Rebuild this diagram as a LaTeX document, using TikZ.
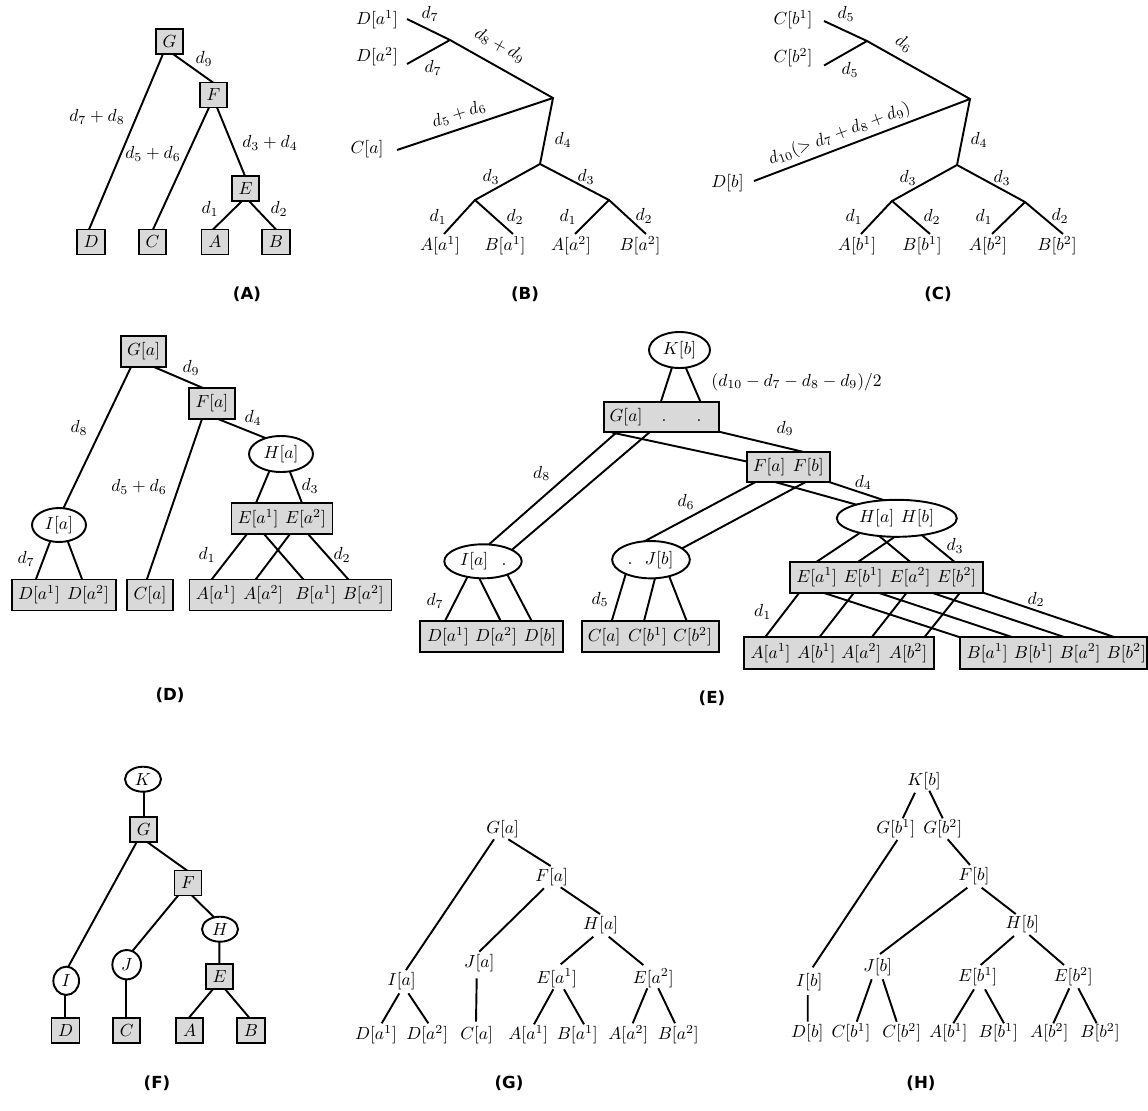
\documentclass[tikz,border=0pt]{standalone}
\usepackage{fontspec}
\newfontfamily\capf{DejaVu Sans}
\usetikzlibrary{shapes.geometric,backgrounds}
\definecolor{boxg}{RGB}{217,217,217}
\def\px{0.5714pt}
\begin{document}
\begin{tikzpicture}[x=\px,y=-\px,
  tb/.style={draw, fill=boxg, line width=1.1pt, inner sep=6.5*\px, minimum width=27*\px, minimum height=25*\px},
  bb/.style={tb, minimum height=31*\px},
  el/.style={ellipse, draw, fill=white, line width=1.1pt, inner sep=0pt},
  sl/.style={inner sep=0pt},
  lb/.style={inner sep=0pt},
  ed/.style={line width=1.1pt},
  ex/.style={ed, shorten <=-2pt, shorten >=-2pt},
  captxt/.style={inner sep=0pt, font=\capf\bfseries\fontsize{9.5}{11}\selectfont}
]
\useasboundingbox (0,0) rectangle (1148,1110);

% ================= Panel A =================
\node[tb] (aG) at (169.5,41.5) {$G$};
\node[tb] (aF) at (213.5,95) {$F$};
\node[tb] (aE) at (245.5,188.5) {$E$};
\node[tb] (aD) at (91,242) {$D$};
\node[tb] (aC) at (152.5,242) {$C$};
\node[tb] (aA) at (215,242) {$A$};
\node[tb] (aB) at (276,242) {$B$};
\node[lb] (aL1) at (204,59) {$d_9$};
\node[lb] (aL2) at (97,117) {$d_7+d_8$};
\node[lb] (aL3) at (153,154) {$d_5+d_6$};
\node[lb] (aL4) at (270,143) {$d_3+d_4$};
\node[lb] (aL5) at (210,209) {$d_1$};
\node[lb] (aL6) at (279,209) {$d_2$};
\node[captxt] (capA) at (247,294) {(A)};
\begin{scope}[on background layer]
\draw[ex] ([shift={(-6.5,12.5)}]aG.center) -- ([shift={(-2,-12.5)}]aD.center);
\draw[ex] ([shift={(3.5,12.5)}]aG.center) -- ([shift={(-0.5,-12.5)}]aF.center);
\draw[ex] ([shift={(-4.5,12.5)}]aF.center) -- ([shift={(0.5,-12.5)}]aC.center);
\draw[ex] ([shift={(3.5,12.5)}]aF.center) -- ([shift={(-0.5,-12.5)}]aE.center);
\draw[ex] ([shift={(-3.5,12.5)}]aE.center) -- ([shift={(-2,-12.5)}]aA.center);
\draw[ex] ([shift={(3.5,12.5)}]aE.center) -- ([shift={(0,-12.5)}]aB.center);
\end{scope}

% ================= Panel B =================
\node[lb] (bDa1) at (377,20) {$D[a^1]$};
\node[lb] (bDa2) at (377,57) {$D[a^2]$};
\node[lb] (bCa) at (367,149) {$C[a]$};
\node[lb] (bAa1) at (440,246) {$A[a^1]$};
\node[lb] (bBa1) at (505,246) {$B[a^1]$};
\node[lb] (bAa2) at (571,246) {$A[a^2]$};
\node[lb] (bBa2) at (640,246) {$B[a^2]$};
\coordinate (bj1) at (450,40);
\coordinate (bj2) at (553,98);
\coordinate (bj3) at (540,164);
\coordinate (bj4) at (475,200);
\coordinate (bj5) at (609,200);
\draw[ed] ([shift={(30,-1)}]bDa1.center) -- (bj1) -- (bj2) -- (bj3);
\draw[ed] ([shift={(30,7)}]bDa2.center) -- (bj1);
\draw[ed] ([shift={(30,1)}]bCa.center) -- (bj2);
\draw[ed] ([shift={(4,-12)}]bAa1.center) -- (bj4) -- (bj3) -- (bj5) -- ([shift={(6,-12)}]bBa2.center);
\draw[ed] ([shift={(8,-12)}]bBa1.center) -- (bj4);
\draw[ed] ([shift={(4,-12)}]bAa2.center) -- (bj5);
\node[lb] (bL1) at (430,14) {$d_7$};
\node[lb] (bL2) at (433,68) {$d_7$};
\node[lb, rotate=-29.5] (bL3) at (500,45.5) {$d_8+d_9$};
\node[lb, rotate=18] (bL4) at (459,114) {$d_5+d_6$};
\node[lb] (bL5) at (563,140) {$d_4$};
\node[lb] (bL6) at (491,177) {$d_3$};
\node[lb] (bL7) at (586,177) {$d_3$};
\node[lb] (bL8) at (438,217) {$d_1$};
\node[lb] (bL9) at (515,217) {$d_2$};
\node[lb] (bL10) at (568,217) {$d_1$};
\node[lb] (bL11) at (644,216) {$d_2$};
\node[captxt] (capB) at (525,294) {(B)};

% ================= Panel C =================
\node[lb] (cCb1) at (793,20) {$C[b^1]$};
\node[lb] (cCb2) at (793,58) {$C[b^2]$};
\node[lb] (cDb) at (727.5,183) {$D[b]$};
\node[lb] (cAb1) at (857,246) {$A[b^1]$};
\node[lb] (cBb1) at (922,246) {$B[b^1]$};
\node[lb] (cAb2) at (988,246) {$A[b^2]$};
\node[lb] (cBb2) at (1057,246) {$B[b^2]$};
\coordinate (cj1) at (867,41);
\coordinate (cj2) at (970,99);
\coordinate (cj3) at (957,165);
\coordinate (cj4) at (892,201);
\coordinate (cj5) at (1025,202);
\draw[ed] ([shift={(31,1)}]cCb1.center) -- (cj1) -- (cj2) -- (cj3);
\draw[ed] ([shift={(31,7.5)}]cCb2.center) -- (cj1);
\draw[ed] ([shift={(26.5,-2)}]cDb.center) -- (cj2);
\draw[ed] ([shift={(4,-12)}]cAb1.center) -- (cj4) -- (cj3) -- (cj5) -- ([shift={(6,-12)}]cBb2.center);
\draw[ed] ([shift={(8,-12)}]cBb1.center) -- (cj4);
\draw[ed] ([shift={(4,-12)}]cAb2.center) -- (cj5);
\node[lb] (cL1) at (846,14) {$d_5$};
\node[lb] (cL2) at (850,70) {$d_5$};
\node[lb, rotate=-29.4] (cL3) at (904,43.5) {$d_6$};
\node[lb, rotate=20.5] (cL4) at (839.5,134) {$d_{10}(>d_7+d_8+d_9)$};
\node[lb] (cL5) at (979,140) {$d_4$};
\node[lb] (cL6) at (908,178) {$d_3$};
\node[lb] (cL7) at (1002,178) {$d_3$};
\node[lb] (cL8) at (854,217) {$d_1$};
\node[lb] (cL9) at (932,217) {$d_2$};
\node[lb] (cL10) at (984,217) {$d_1$};
\node[lb] (cL11) at (1060,216) {$d_2$};
\node[captxt] (capC) at (938,294) {(C)};

% ================= Panel D =================
\node[bb] (dG) at (143.5,351.5) {$G[a]$};
\node[bb] (dF) at (212,403.5) {$F[a]$};
\node[el, minimum width=64*\px, minimum height=36*\px] (dH) at (281,454) {$H[a]$};
\node[bb, minimum width=101*\px] (dE) at (282,518.5) {};
\node[sl] (dE1) at (258,518.5) {$E[a^1]$};
\node[sl] (dE2) at (305.5,518.5) {$E[a^2]$};
\node[el, minimum width=54*\px, minimum height=34*\px] (dI) at (59,525) {$I[a]$};
\node[bb, minimum width=104*\px] (dD) at (64,595) {};
\node[sl] (dD1) at (39,595) {$D[a^1]$};
\node[sl] (dD2) at (88,595) {$D[a^2]$};
\node[bb] (dC) at (150,595) {$C[a]$};
\node[bb, minimum width=202*\px] (dAB) at (290.5,595) {};
\node[sl] (dA1) at (215.8,595) {$A[a^1]$};
\node[sl] (dA2) at (263.3,595) {$A[a^2]$};
\node[sl] (dB1) at (315.8,595) {$B[a^1]$};
\node[sl] (dB2) at (363.3,595) {$B[a^2]$};
\node[lb] (dL1) at (191,368) {$d_9$};
\node[lb] (dL2) at (79,428) {$d_8$};
\node[lb] (dL3) at (253,418) {$d_4$};
\node[lb] (dL4) at (139,487) {$d_5+d_6$};
\node[lb] (dL5) at (310,486) {$d_3$};
\node[lb] (dL6) at (207,555) {$d_1$};
\node[lb] (dL7) at (342,555) {$d_2$};
\node[lb] (dL8) at (26,559) {$d_7$};
\node[captxt] (capD) at (170,695) {(D)};
\begin{scope}[on background layer]
\draw[ex] ([shift={(-12.5,15.5)}]dG.center) -- ([shift={(5,-18)}]dI.center);
\draw[ex] ([shift={(10.5,15.5)}]dG.center) -- ([shift={(-9,-15.5)}]dF.center);
\draw[ex] ([shift={(-10,15.5)}]dF.center) -- ([shift={(-3,-16)}]dC.center);
\draw[ex] ([shift={(6,15.5)}]dF.center) -- ([shift={(-18,-17)}]dH.center);
\draw[ex] ([shift={(-12,18)}]dH.center) -- ([shift={(-26,-15.5)}]dE.center);
\draw[ex] ([shift={(9,18)}]dH.center) -- ([shift={(20,-15.5)}]dE.center);
\draw[ex] ([shift={(-9,17)}]dI.center) -- ([shift={(-28,-16)}]dD.center);
\draw[ex] ([shift={(9,17)}]dI.center) -- ([shift={(18,-16)}]dD.center);
\draw[ex] ([shift={(-35,15.5)}]dE.center) -- ([shift={(-78.5,-16)}]dAB.center);
\draw[ex] ([shift={(-18,15.5)}]dE.center) -- ([shift={(12.5,-16)}]dAB.center);
\draw[ex] ([shift={(8,15.5)}]dE.center) -- ([shift={(-34.5,-16)}]dAB.center);
\draw[ex] ([shift={(26,15.5)}]dE.center) -- ([shift={(57.5,-16)}]dAB.center);
\end{scope}

% ================= Panel E =================
\node[el, minimum width=61*\px, minimum height=36*\px] (eK) at (679.5,350) {$K[b]$};
\node[bb, minimum width=115*\px, minimum height=30*\px] (eG) at (661.5,417.3) {};
\node[sl] (eGa) at (626,417.3) {$G[a]$};
\node[sl] (eGd1) at (664,417.3) {$\vphantom{[}.$};
\node[sl] (eGd2) at (699,417.3) {$\vphantom{[}.$};
\node[bb, minimum width=83*\px, minimum height=30*\px] (eF) at (788.5,467.3) {};
\node[sl] (eFa) at (769.2,467.3) {$F[a]$};
\node[sl] (eFb) at (808.3,467.3) {$F[b]$};
\node[el, minimum width=120*\px, minimum height=37*\px] (eH) at (896.8,518.3) {};
\node[sl] (eHa) at (876.7,518.3) {$H[a]$};
\node[sl] (eHb) at (917.5,518.3) {$H[b]$};
\node[bb, minimum width=193*\px] (eE) at (886.7,577.2) {};
\node[sl] (eE1) at (816.7,577.2) {$E[a^1]$};
\node[sl] (eE2) at (863,577.2) {$E[b^1]$};
\node[sl] (eE3) at (910,577.2) {$E[a^2]$};
\node[sl] (eE4) at (956.7,577.2) {$E[b^2]$};
\node[bb, minimum width=190*\px, minimum height=31.7*\px] (eA) at (839,653.2) {};
\node[sl] (eA1) at (770.5,653.2) {$A[a^1]$};
\node[sl] (eA2) at (816.3,653.2) {$A[b^1]$};
\node[sl] (eA3) at (861.3,653.2) {$A[a^2]$};
\node[sl] (eA4) at (908,653.2) {$A[b^2]$};
\node[bb, minimum width=187*\px, minimum height=31.7*\px] (eB) at (1053.7,653.2) {};
\node[sl] (eB1) at (987.2,653.2) {$B[a^1]$};
\node[sl] (eB2) at (1033.5,653.2) {$B[b^1]$};
\node[sl] (eB3) at (1080,653.2) {$B[a^2]$};
\node[sl] (eB4) at (1126.3,653.2) {$B[b^2]$};
\node[el, minimum width=77.4*\px, minimum height=34*\px] (eI) at (483,561.3) {};
\node[sl] (eIa) at (474.2,561.3) {$I[a]$};
\node[sl] (eId) at (504,561.3) {$\vphantom{[}.$};
\node[el, minimum width=77.7*\px, minimum height=37.3*\px] (eJ) at (651,559.7) {};
\node[sl] (eJd) at (630,559.7) {$\vphantom{[}.$};
\node[sl] (eJb) at (659.2,559.7) {$J[b]$};
\node[bb, minimum width=142.7*\px] (eD) at (491.3,636.7) {};
\node[sl] (eD1) at (448,636.7) {$D[a^1]$};
\node[sl] (eD2) at (496,636.7) {$D[a^2]$};
\node[sl] (eD3) at (540,636.7) {$D[b]$};
\node[bb, minimum width=137.3*\px] (eC) at (650.7,636.7) {};
\node[sl] (eC1) at (604.2,636.7) {$C[a]$};
\node[sl] (eC2) at (647.5,636.7) {$C[b^1]$};
\node[sl] (eC3) at (692.5,636.7) {$C[b^2]$};
\node[lb] (eL1) at (796.5,381.7) {$(d_{10}-d_7-d_8-d_9)/2$};
\node[lb] (eL2) at (785,428.3) {$d_9$};
\node[lb] (eL3) at (541.7,473.3) {$d_8$};
\node[lb] (eL4) at (686,501.7) {$d_6$};
\node[lb] (eL5) at (435,601) {$d_7$};
\node[lb] (eL6) at (600,599.3) {$d_5$};
\node[lb] (eL7) at (863.3,482.3) {$d_4$};
\node[lb] (eL8) at (955,546) {$d_3$};
\node[lb] (eL9) at (762.7,611.7) {$d_1$};
\node[lb] (eL10) at (1036,599.3) {$d_2$};
\node[captxt] (capE) at (712,698) {(E)};
\begin{scope}[on background layer]
\draw[ex] ([shift={(-7.8,18.3)}]eK.center) -- ([shift={(-0.8,-15)}]eG.center);
\draw[ex] ([shift={(6.5,18.3)}]eK.center) -- ([shift={(39.2,-15)}]eG.center);
\draw[ex] ([shift={(-46,16)}]eG.center) -- ([shift={(5.3,-16.3)}]eI.center);
\draw[ex] ([shift={(-13.2,16)}]eG.center) -- ([shift={(28.7,-11.3)}]eI.center);
\draw[ex] ([shift={(-46,16)}]eG.center) -- ([shift={(-40.8,-5.6)}]eF.center);
\draw[ex] ([shift={(57.5,14.4)}]eG.center) -- ([shift={(16.5,-15)}]eF.center);
\draw[ex] ([shift={(-33.5,15)}]eF.center) -- ([shift={(-6,-18.7)}]eJ.center);
\draw[ex] ([shift={(16.5,15)}]eF.center) -- ([shift={(32.3,-12)}]eJ.center);
\draw[ex] ([shift={(-12.5,15)}]eF.center) -- ([shift={(-41.8,-14)}]eH.center);
\draw[ex] ([shift={(41.5,15)}]eF.center) -- ([shift={(-13.5,-18.3)}]eH.center);
\draw[ex] ([shift={(-37.5,15)}]eH.center) -- ([shift={(-70,-15.5)}]eE.center);
\draw[ex] ([shift={(-2.8,19)}]eH.center) -- ([shift={(-28.4,-15.5)}]eE.center);
\draw[ex] ([shift={(-16.8,18.4)}]eH.center) -- ([shift={(23.3,-15.5)}]eE.center);
\draw[ex] ([shift={(24.9,16.7)}]eH.center) -- ([shift={(67.6,-15.5)}]eE.center);
\draw[ex] ([shift={(-87.4,15.5)}]eE.center) -- ([shift={(-74,-15.9)}]eA.center);
\draw[ex] ([shift={(-32.7,15.5)}]eE.center) -- ([shift={(-19.7,-15.9)}]eA.center);
\draw[ex] ([shift={(20,15.5)}]eE.center) -- ([shift={(32.7,-15.9)}]eA.center);
\draw[ex] ([shift={(73.3,15.5)}]eE.center) -- ([shift={(85.3,-15.9)}]eA.center);
\draw[ex] ([shift={(-63.4,15.5)}]eE.center) -- ([shift={(-93.7,-15.9)}]eB.center);
\draw[ex] ([shift={(-8.4,15.5)}]eE.center) -- ([shift={(-41,-15.9)}]eB.center);
\draw[ex] ([shift={(45,15.5)}]eE.center) -- ([shift={(11.3,-15.9)}]eB.center);
\draw[ex] ([shift={(96.6,15.5)}]eE.center) -- ([shift={(61.3,-15.9)}]eB.center);
\draw[ex] ([shift={(-15.1,14.7)}]eI.center) -- ([shift={(-46.3,-15.7)}]eD.center);
\draw[ex] ([shift={(-4.4,15.7)}]eI.center) -- ([shift={(9.4,-15.7)}]eD.center);
\draw[ex] ([shift={(24.2,13)}]eI.center) -- ([shift={(40.4,-15.7)}]eD.center);
\draw[ex] ([shift={(-25,13.5)}]eJ.center) -- ([shift={(-39,-15.7)}]eC.center);
\draw[ex] ([shift={(4,18.6)}]eJ.center) -- ([shift={(-6.7,-15.7)}]eC.center);
\draw[ex] ([shift={(18.3,17)}]eJ.center) -- ([shift={(36,-15.7)}]eC.center);
\end{scope}

% ================= Panel F =================
\node[el, minimum width=36*\px, minimum height=25*\px] (fK) at (143,779.2) {$K$};
\node[tb] (fG) at (143.8,829.8) {$G$};
\node[tb] (fF) at (188,883) {$F$};
\node[el, minimum width=36*\px, minimum height=25*\px] (fH) at (220,929.2) {$H$};
\node[tb] (fE) at (219.7,976.3) {$E$};
\node[el, minimum width=25.7*\px, minimum height=28.3*\px] (fI) at (66.2,980.8) {$I$};
\node[el, minimum width=28.7*\px, minimum height=29.3*\px] (fJ) at (126.7,964.7) {$J$};
\node[tb] (fD) at (65.5,1030.2) {$D$};
\node[tb] (fC) at (126.7,1030.2) {$C$};
\node[tb] (fA) at (189.8,1030.2) {$A$};
\node[tb] (fB) at (251,1030.2) {$B$};
\node[captxt] (capF) at (157,1083) {(F)};
\begin{scope}[on background layer]
\draw[ex] ([shift={(1,12.5)}]fK.center) -- ([shift={(0.2,-12.5)}]fG.center);
\draw[ex] ([shift={(-7.8,13.5)}]fG.center) -- ([shift={(2.1,-14.1)}]fI.center);
\draw[ex] ([shift={(5.2,13.5)}]fG.center) -- ([shift={(-0.7,-12.3)}]fF.center);
\draw[ex] ([shift={(-9.7,12.3)}]fF.center) -- ([shift={(6,-14)}]fJ.center);
\draw[ex] ([shift={(3.7,12.3)}]fF.center) -- ([shift={(-6,-12)}]fH.center);
\draw[ex] ([shift={(-0.7,12.5)}]fH.center) -- ([shift={(-0.4,-12.3)}]fE.center);
\draw[ex] ([shift={(-6.4,12.4)}]fE.center) -- ([shift={(-0.8,-12.5)}]fA.center);
\draw[ex] ([shift={(5,12.4)}]fE.center) -- ([shift={(-1.7,-12.5)}]fB.center);
\draw[ex] ([shift={(-0.9,14.2)}]fI.center) -- ([shift={(-0.2,-12.5)}]fD.center);
\draw[ex] ([shift={(-0.7,14.6)}]fJ.center) -- ([shift={(-0.7,-12.5)}]fC.center);
\end{scope}

% ================= Panel G =================
\node[lb] (gG) at (502.7,829.3) {$G[a]$};
\node[lb] (gF) at (551.7,876.7) {$F[a]$};
\node[lb] (gH) at (600.7,925) {$H[a]$};
\node[lb] (gI) at (401.7,980.7) {$I[a]$};
\node[lb] (gJ) at (479.3,963.3) {$J[a]$};
\node[lb] (gE1) at (556.7,978.3) {$E[a^1]$};
\node[lb] (gE2) at (653.3,978.3) {$E[a^2]$};
\node[lb] (gDa1) at (376,1035) {$D[a^1]$};
\node[lb] (gDa2) at (427.3,1035) {$D[a^2]$};
\node[lb] (gCa) at (476.7,1035) {$C[a]$};
\node[lb] (gAa1) at (528.3,1035) {$A[a^1]$};
\node[lb] (gBa1) at (577.3,1035) {$B[a^1]$};
\node[lb] (gAa2) at (628.3,1035) {$A[a^2]$};
\node[lb] (gBa2) at (678.3,1035) {$B[a^2]$};
\node[captxt] (capG) at (509,1083) {(G)};
\draw[ed] ([shift={(-8.7,10)}]gG.center) -- ([shift={(4.3,-10.7)}]gI.center);
\draw[ed] ([shift={(5.6,10)}]gG.center) -- ([shift={(-1,-10.7)}]gF.center);
\draw[ed] ([shift={(-7.7,11.6)}]gF.center) -- ([shift={(0,-11.6)}]gJ.center);
\draw[ed] ([shift={(9,10.6)}]gF.center) -- ([shift={(-0.7,-11)}]gH.center);
\draw[ed] ([shift={(-7.4,11.7)}]gH.center) -- ([shift={(4,-14)}]gE1.center);
\draw[ed] ([shift={(8,11.7)}]gH.center) -- ([shift={(-10,-13.3)}]gE2.center);
\draw[ed] ([shift={(-2.4,12.6)}]gI.center) -- ([shift={(5.7,-11.7)}]gDa1.center);
\draw[ed] ([shift={(6.6,12.6)}]gI.center) -- ([shift={(1,-11.7)}]gDa2.center);
\draw[ed] ([shift={(-2.6,15)}]gJ.center) -- ([shift={(-0.7,-13.3)}]gCa.center);
\draw[ed] ([shift={(-3.4,11)}]gE1.center) -- ([shift={(5.7,-10.7)}]gAa1.center);
\draw[ed] ([shift={(7.3,11)}]gE1.center) -- ([shift={(6.7,-10.7)}]gBa1.center);
\draw[ed] ([shift={(-6,10)}]gE2.center) -- ([shift={(4.4,-11.7)}]gAa2.center);
\draw[ed] ([shift={(5,10)}]gE2.center) -- ([shift={(-3.3,-11.7)}]gBa2.center);

% ================= Panel H =================
\node[lb] (hK) at (924,780.7) {$K[b]$};
\node[lb] (hGb1) at (895.7,829) {$G[b^1]$};
\node[lb] (hGb2) at (942.7,829) {$G[b^2]$};
\node[lb] (hF) at (974,876) {$F[b]$};
\node[lb] (hH) at (1022.3,924) {$H[b]$};
\node[lb] (hI) at (809.3,982.3) {$I[b]$};
\node[lb] (hJ) at (877.7,966.7) {$J[b]$};
\node[lb] (hE1) at (977.7,976.7) {$E[b^1]$};
\node[lb] (hE2) at (1073.3,976.7) {$E[b^2]$};
\node[lb] (hDb) at (807.3,1032.7) {$D[b]$};
\node[lb] (hCb1) at (851,1032.7) {$C[b^1]$};
\node[lb] (hCb2) at (901.7,1032.7) {$C[b^2]$};
\node[lb] (hAb1) at (948.3,1032.7) {$A[b^1]$};
\node[lb] (hBb1) at (998.3,1032.7) {$B[b^1]$};
\node[lb] (hAb2) at (1049.3,1032.7) {$A[b^2]$};
\node[lb] (hBb2) at (1100,1032.7) {$B[b^2]$};
\node[captxt] (capH) at (921,1083) {(H)};
\draw[ed] ([shift={(-9,12)}]hK.center) -- ([shift={(7,-10.7)}]hGb1.center);
\draw[ed] ([shift={(5.3,10)}]hK.center) -- ([shift={(0,-10.7)}]hGb2.center);
\draw[ed] ([shift={(1.6,11)}]hGb1.center) -- ([shift={(3.4,-15)}]hI.center);
\draw[ed] ([shift={(5,10.3)}]hGb2.center) -- ([shift={(-4,-11)}]hF.center);
\draw[ed] ([shift={(-6.7,11.7)}]hF.center) -- ([shift={(2.3,-12.7)}]hJ.center);
\draw[ed] ([shift={(7.7,11.7)}]hF.center) -- ([shift={(-6.6,-10)}]hH.center);
\draw[ed] ([shift={(-8.3,12)}]hH.center) -- ([shift={(3,-11.7)}]hE1.center);
\draw[ed] ([shift={(7,11)}]hH.center) -- ([shift={(-9.3,-11.7)}]hE2.center);
\draw[ed] ([shift={(-1.6,12.7)}]hI.center) -- ([shift={(0.4,-11)}]hDb.center);
\draw[ed] ([shift={(-6,12.6)}]hJ.center) -- ([shift={(5.7,-11)}]hCb1.center);
\draw[ed] ([shift={(5,12.6)}]hJ.center) -- ([shift={(-5,-11)}]hCb2.center);
\draw[ed] ([shift={(-3.7,12.6)}]hE1.center) -- ([shift={(5,-9.4)}]hAb1.center);
\draw[ed] ([shift={(7.3,12.6)}]hE1.center) -- ([shift={(5.7,-9.4)}]hBb1.center);
\draw[ed] ([shift={(-4,11.6)}]hE2.center) -- ([shift={(4,-9.4)}]hAb2.center);
\draw[ed] ([shift={(5,11.6)}]hE2.center) -- ([shift={(-3.3,-9.4)}]hBb2.center);
\end{tikzpicture}
\end{document}
